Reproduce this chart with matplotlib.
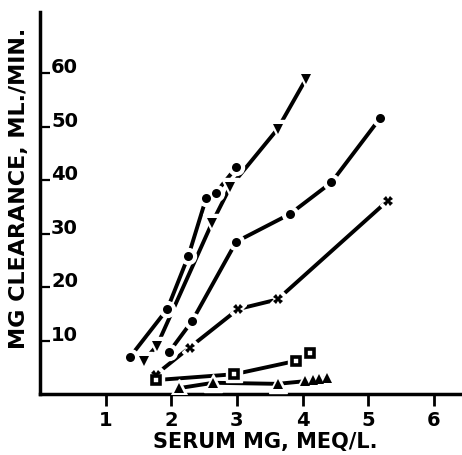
import numpy as np
import matplotlib
matplotlib.use("Agg")
import matplotlib.pyplot as plt

plt.rcParams['font.family'] = ['DejaVu Sans']
plt.rcParams['font.weight'] = 'bold'

# serum Mg (meq/L) vs Mg clearance (ml/min), one list pair per subject
circ1_x = [1.37, 1.94, 2.26, 2.53, 2.68, 2.99]
circ1_y = [6.9, 15.9, 25.8, 36.6, 37.7, 42.4]

tri_dn_x = [1.58, 1.78, 2.62, 2.90, 3.62, 4.05]
tri_dn_y = [6.2, 9.0, 32.0, 38.8, 49.6, 58.9]

circ2_x = [1.97, 2.32, 2.99, 3.81, 4.44, 5.18]
circ2_y = [7.9, 13.7, 28.5, 33.7, 39.6, 51.6]

cross_x = [1.76, 2.28, 3.02, 3.62, 5.30]
cross_y = [3.6, 8.7, 15.9, 17.7, 36.2]

sq_x = [1.76, 2.96, 3.90, 4.12]
sq_y = [2.6, 3.7, 6.2, 7.7]

tri_up_x = [2.12, 2.64, 3.62, 4.04, 4.16, 4.25, 4.37]
tri_up_y = [1.1, 2.1, 1.9, 2.4, 2.6, 2.8, 3.0]

xticks = [1, 2, 3, 4, 5, 6]
yticks = [10, 20, 30, 40, 50, 60]

fig = plt.figure(figsize=(4.62, 4.55), dpi=100)
ax = fig.add_axes([40/462, 1-394/455, 1-40/462, (394-12)/455])

series = [
    (circ1_x, circ1_y, 'o', 6.5),
    (tri_dn_x, tri_dn_y, 'v', 7.5),
    (circ2_x, circ2_y, 'o', 6.5),
    (cross_x, cross_y, 'X', 6.5),
    (sq_x, sq_y, 's', 6),
    (tri_up_x, tri_up_y, '^', 7.5),
]
for xs, ys, m, ms in series:
    ax.plot(xs, ys, '-', color='black', lw=2.8, solid_capstyle='butt', zorder=2)
    ax.plot(xs, ys, m, ls='none', ms=ms+5, mfc='white', mec='white', zorder=3)
    if m == 's':
        ax.plot(xs, ys, m, ls='none', ms=ms, mfc='white', mec='black', mew=2.6, zorder=4)
    else:
        ax.plot(xs, ys, m, ls='none', ms=ms, color='black', mew=0, zorder=4)

ax.set_xlim(0, 6.43)
ax.set_ylim(0, 71.5)

for s in ['top', 'right']:
    ax.spines[s].set_visible(False)
ax.spines['left'].set_linewidth(2.5)
ax.spines['bottom'].set_linewidth(2.5)

ax.set_xticks(xticks)
ax.set_xticklabels([str(t) for t in xticks], fontsize=14, fontweight='bold')
ax.tick_params(axis='x', direction='out', length=8.5, width=2, pad=4)

ax.set_yticks(yticks)
ax.set_yticklabels([])
ax.tick_params(axis='y', direction='in', length=7.5, width=1.6)
for v in yticks:
    ax.annotate(str(v), xy=(0, v), xycoords=('axes fraction', 'data'),
                xytext=(8, 0), textcoords='offset points',
                ha='left', va='baseline', fontsize=14, fontweight='bold')

ax.set_xlabel('SERUM MG, MEQ/L.', fontsize=15, fontweight='bold')
ax.xaxis.set_label_coords(0.533, -0.1)
ax.set_ylabel('MG CLEARANCE, ML./MIN.', fontsize=16, fontweight='bold')
ax.yaxis.set_label_coords(-0.026, 0.539)

fig.savefig('out.png', dpi=100)
